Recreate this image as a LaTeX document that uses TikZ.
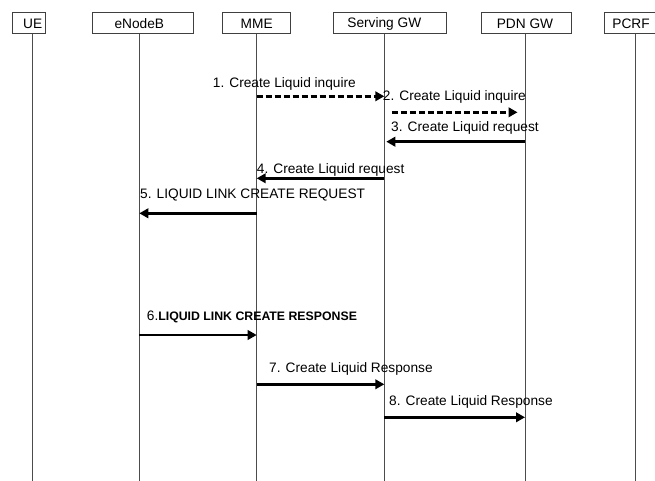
\documentclass[tikz,border=0pt]{standalone}
\usepackage{fontspec}
\setmainfont{Liberation Sans}
\usetikzlibrary{arrows.meta}
\begin{document}
\begin{tikzpicture}[x=1pt,y=-1pt,
  box/.style={draw=black!75,line width=0.9pt,minimum height=21.5pt,inner sep=0pt},
  boxtext/.style={inner sep=0pt,font=\fontsize{13.7}{15}\selectfont},
  life/.style={draw=black!70,line width=0.9pt},
  msg/.style={line width=2.8pt,-{Triangle[length=9pt,width=9.5pt]}},
  msgd/.style={msg,dash pattern=on 6pt off 3pt},
  lbl/.style={anchor=base west,inner sep=0pt,font=\fontsize{13.7}{15}\selectfont}]
\useasboundingbox (0,0) rectangle (655,481);
\fill[white] (0,0) rectangle (655,481);
% boxes
\node[box,minimum width=33pt] (ueb) at (28.7,22.8) {};
\node[box,minimum width=101pt] (enbb) at (142.5,22.8) {};
\node[box,minimum width=68pt] (mmeb) at (256.7,22.8) {};
\node[box,minimum width=113pt] (sgwb) at (389.7,22.8) {};
\node[box,minimum width=90pt] (pdnb) at (526,22.8) {};
\node[box,minimum width=56pt] (pcrfb) at (632.3,22.8) {};
% box texts, centred on the lifelines
\node[boxtext] (ue) at (32.7,24) {UE};
\node[boxtext] (enb) at (139.3,24) {eNodeB};
\node[boxtext] (mme) at (256.7,24) {MME};
\node[boxtext] (sgw) at (384.3,24) {Serving GW};
\node[boxtext] (pdn) at (525,24) {PDN GW};
\node[boxtext] (pcrf) at (631,24) {PCRF};
\coordinate (bottom) at (0,481);
% lifelines
\draw[life] (ue |- ueb.south) -- (ue |- bottom);
\draw[life] (enb |- enbb.south) -- (enb |- bottom);
\draw[life] (mme |- mmeb.south) -- (mme |- bottom);
\draw[life] (sgw |- sgwb.south) -- (sgw |- bottom);
\draw[life] (pdn |- pdnb.south) -- (pdn |- bottom);
\draw[life] ([xshift=4pt]pcrf |- pcrfb.south) coordinate (pcrfl) -- (pcrfl |- bottom);
% message rows
\coordinate (y1) at (0,96.3);
\coordinate (y2) at (0,112.3);
\coordinate (y3) at (0,141.7);
\coordinate (y4) at (0,178.3);
\coordinate (y5) at (0,213.3);
\coordinate (y6) at (0,335);
\coordinate (y7) at (0,384.3);
\coordinate (y8) at (0,417.3);
% messages
\draw[msgd] (mme |- y1) -- (sgw |- y1);
\node[lbl] (l1) at (212.7,88) {1. Create Liquid inquire};
\draw[msgd,shorten <=7.5pt,shorten >=7.5pt] (sgw |- y2) -- (pdn |- y2);
\node[lbl] (l2) at (382.7,100.5) {2. Create Liquid inquire};
\draw[msg,shorten >=2pt] (pdn |- y3) -- (sgw |- y3);
\node[lbl] (l3) at (391,132) {3. Create Liquid request};
\draw[msg] (sgw |- y4) -- (mme |- y4);
\node[lbl] (l4) at (256.7,173) {4. Create Liquid request};
\draw[msg] (mme |- y5) -- (enb |- y5);
\node[lbl] (l5) at (140,198) {5. LIQUID LINK CREATE REQUEST};
\draw[msg] (enb |- y6) -- (mme |- y6);
\node[lbl] (l6) at (146.7,320) {6.{\fontsize{12.3}{14}\selectfont\bfseries LIQUID LINK CREATE RESPONSE}};
\draw[msg] (mme |- y7) -- (sgw |- y7);
\node[lbl] (l7) at (269,372.5) {7. Create Liquid Response};
\draw[msg] (sgw |- y8) -- (pdn |- y8);
\node[lbl] (l8) at (389,405) {8. Create Liquid Response};
\end{tikzpicture}
\end{document}
